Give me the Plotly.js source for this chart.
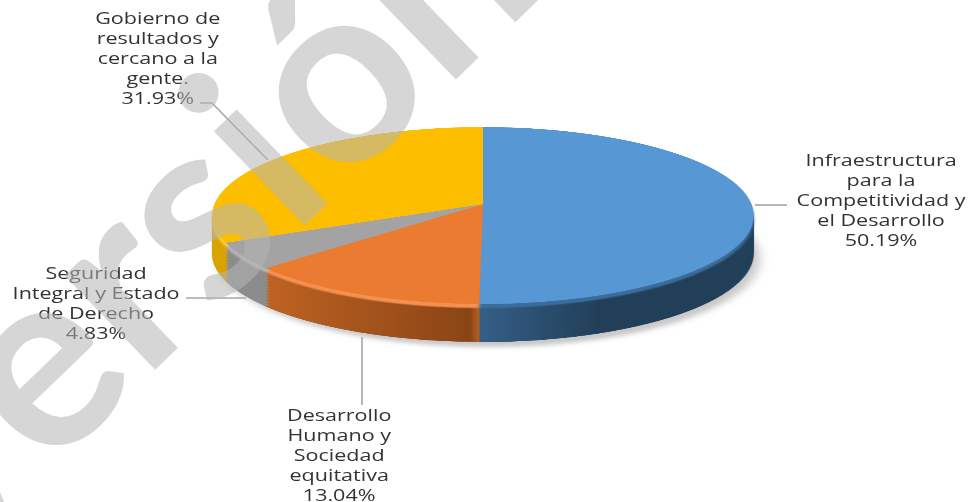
<!DOCTYPE html>
<html><head><meta charset="utf-8">
<script src="https://cdn.plot.ly/plotly-3.0.1.min.js"></script>
<style>
html,body{margin:0;padding:0;background:#fff;width:969px;height:502px;overflow:hidden}
#stage{position:relative;width:969px;height:502px;overflow:hidden}
.pie{position:absolute;width:600px;height:600px;transform-origin:300px 300px}
.group{position:absolute;left:0;top:0;width:969px;height:502px}
.over{position:absolute;left:0;top:0;width:969px;height:502px}
</style></head><body><div id="stage"></div>
<script>
const categories=["Infraestructura para la Competitividad y el Desarrollo","Desarrollo Humano y Sociedad equitativa","Seguridad Integral y Estado de Derecho","Gobierno de resultados y cercano a la gente."];
const shares=[50.19,13.04,4.83,31.93];
const topColors=["#5797d4","#ea7b31","#a3a3a3","#fdbe00"];
const bevelColors=["#3a6c9c","#f59050","#b5b5b5","#ffcf3a"];
const sideDark=["#223f59","#8a4516","#7c7c7c","#bf9000"];
const sideLight=["#345f86","#bd6222","#8c8c8c","#d9a300"];
const labelLines=["Infraestructura<br>para la<br>Competitividad y<br>el Desarrollo<br>50.19%","Desarrollo<br>Humano y<br>Sociedad<br>equitativa<br>13.04%","Seguridad<br>Integral y Estado<br>de Derecho<br>4.83%","Gobierno de<br>resultados y<br>cercano a la<br>gente.<br>31.93%"];
const cx=483,cy=205,a=268.5,b=87,k=-0.13,stretch=1.4;
const stage=document.getElementById('stage');
function addPie(parent,colors,dy,dx,extra){
  const d=document.createElement('div');d.className='pie';
  d.style.left=(cx-300+(dx||0))+'px';d.style.top=(cy-300+dy)+'px';
  d.style.transform=`matrix3d(${a/300},0,0,0, 0,${b/300},0,${k/300}, 0,0,1,0, 0,0,0,1)`;
  if(extra)d.style.filter=extra;
  parent.appendChild(d);
  Plotly.newPlot(d,[{type:'pie',values:shares,labels:categories,sort:false,direction:'clockwise',rotation:0,textinfo:'none',hoverinfo:'skip',marker:{colors:colors,line:{width:0}},domain:{x:[0,1],y:[0,1]}}],
   {width:600,height:600,margin:{l:0,r:0,t:0,b:0},showlegend:false,paper_bgcolor:'rgba(0,0,0,0)',plot_bgcolor:'rgba(0,0,0,0)'},{staticPlot:true});
}
addPie(stage,["#c8c8c8","#c8c8c8","#c8c8c8","#c8c8c8"],42,6,'blur(6px)');
const offsets=[37,34,31,28,25,22,19,16,13,10,7,4];
const g1=document.createElement('div');g1.className='group';g1.style.filter='blur(.5px)';stage.appendChild(g1);
offsets.forEach(o=>addPie(g1,sideDark,o));
const g2=document.createElement('div');g2.className='group';
g2.style.webkitMaskImage=g2.style.maskImage='linear-gradient(90deg,#000 0,#000 270px,rgba(0,0,0,0) 470px,#000 480px,rgba(0,0,0,0) 600px)';
stage.appendChild(g2);
offsets.forEach(o=>addPie(g2,sideLight,o));
addPie(stage,bevelColors,3,0,'blur(1.5px)');
addPie(stage,topColors,-1,0,'blur(.6px)');

function overlay(){const d=document.createElement('div');d.className='over';stage.appendChild(d);return d;}
const base={margin:{l:0,r:0,t:0,b:0},paper_bgcolor:'rgba(0,0,0,0)',plot_bgcolor:'rgba(0,0,0,0)',showlegend:false,height:502};
const lab=overlay();
lab.style.width=(969/stretch)+'px';lab.style.transformOrigin='0 0';lab.style.transform=`scaleX(${stretch})`;lab.style.filter='blur(.35px)';
const font={family:'"Open Sans", sans-serif',size:15.4,color:'#333'};
const ann=[
 {x:881,y:200,text:labelLines[0]},
 {x:339,y:455,text:labelLines[1]},
 {x:96,y:303,text:labelLines[2]},
 {x:158,y:58,text:labelLines[3]}
].map(o=>({x:o.x/stretch,y:o.y,text:o.text,xref:'x',yref:'y',showarrow:false,align:'center',font:font}));
Plotly.newPlot(lab,[],Object.assign({},base,{width:969/stretch,
 xaxis:{range:[0,969/stretch],visible:false,fixedrange:true},yaxis:{range:[502,0],visible:false,fixedrange:true},annotations:ann}),{staticPlot:true});
const marks=overlay();
const wm={x:171,y:217,xref:'x',yref:'y',text:'<b>Versión</b>',textangle:-44,showarrow:false,font:{family:'Lato',size:255,color:'rgba(180,180,180,0.55)'}};
const line=(path)=>({type:'path',path:path,xref:'x',yref:'y',layer:'above',line:{color:'#a6a6a6',width:1.6}});
Plotly.newPlot(marks,[],Object.assign({},base,{width:969,
 xaxis:{range:[0,969],visible:false,fixedrange:true},yaxis:{range:[502,0],visible:false,fixedrange:true},
 annotations:[wm],
 shapes:[line('M755,205L787,205'),line('M362,337L362,405'),line('M186,298L246,298'),line('M200,103L212,103L268,160')]}),{staticPlot:true});
</script></body></html>
